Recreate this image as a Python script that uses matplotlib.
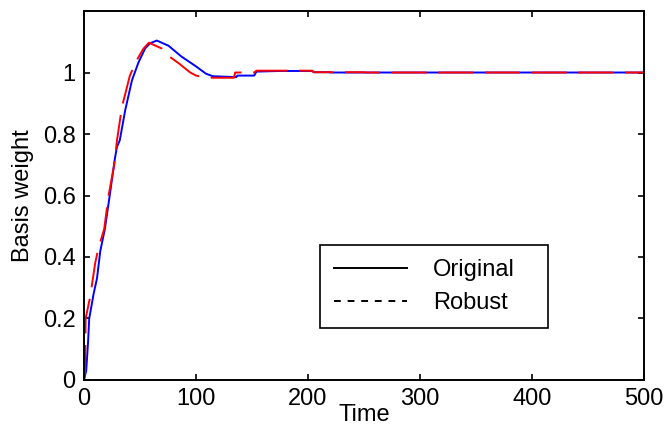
import matplotlib
matplotlib.use("Agg")
import matplotlib.pyplot as plt
from matplotlib.lines import Line2D

plt.rcParams['font.family'] = ['Liberation Sans', 'DejaVu Sans']

t_orig = [0, 2, 3.6, 4.7, 8.6, 11.6, 14.6, 18.6, 23, 27.6, 29.4, 32, 36.8, 42.8, 48.7,
          54.6, 59, 65, 75.5, 87, 100, 109, 115, 136, 137, 152, 154, 175, 204, 205, 219, 220, 500]
y_orig = [0, 0.03, 0.12, 0.2, 0.28, 0.33, 0.42, 0.49, 0.6, 0.72, 0.757, 0.78, 0.877, 0.974, 1.033,
          1.078, 1.095, 1.104, 1.087, 1.052, 1.02, 0.996, 0.988, 0.985, 0.99, 0.99, 1.003, 1.005, 1.005,
          1.001, 1.001, 1.0, 1.0]

t_rob = [0, 1, 1.5, 5.5, 10, 13, 18, 22, 27, 29.5, 33.9, 41, 47, 53, 58, 69.5, 77, 85, 94.5,
         100, 110, 134, 135, 152, 154, 204, 205, 250, 251, 500]
y_rob = [0, 0.03, 0.2, 0.27, 0.38, 0.43, 0.49, 0.6, 0.7, 0.78, 0.888, 0.99, 1.039, 1.077, 1.097,
         1.078, 1.05, 1.029, 1.001, 0.99, 0.983, 0.983, 1.0, 1.0, 1.006, 1.006, 1.001, 1.001, 1.0, 1.0]

xticks = [0, 100, 200, 300, 400, 500]
yticks = [0, 0.2, 0.4, 0.6, 0.8, 1]
ytick_labels = ['0', '0.2', '0.4', '0.6', '0.8', '1']

fs = 17

fig = plt.figure(figsize=(6.68, 4.32), dpi=100)
ax = fig.add_axes([0.1257, 0.1204, 0.8383, 0.8541])

ax.plot(t_orig, y_orig, color='#0000ff', lw=1.4)
ax.plot(t_rob, y_rob, color='#ff0000', lw=1.4, dashes=(18, 6))

ax.set_xlim(0, 500)
ax.set_ylim(0, 1.2)
ax.set_xticks(xticks)
ax.set_yticks(yticks)
ax.set_yticklabels(ytick_labels)
ax.tick_params(direction='in', length=4, width=1.2, labelsize=fs, top=True, right=True,
               labeltop=False, labelright=False, pad=6)
for s in ax.spines.values():
    s.set_linewidth(1.4)

ax.set_ylabel('Basis weight', fontsize=fs)
ax.yaxis.set_label_coords(-0.089, 0.5)
ax.set_xlabel('Time', fontsize=fs)
ax.xaxis.set_label_coords(0.5, -0.065)

handles = [Line2D([], [], color='black', lw=1.4),
           Line2D([], [], color='black', lw=1.4, dashes=(3.5, 3.5))]
leg = ax.legend(handles, ['Original', 'Robust'], loc='lower left',
                bbox_to_anchor=(0.421, 0.141, 0.407, 0.22), mode='expand',
                fontsize=fs, handlelength=3.1, handletextpad=1.1, labelspacing=0.45,
                fancybox=False, edgecolor='black', framealpha=1, borderpad=0.6,
                borderaxespad=0)
leg.get_frame().set_linewidth(1.2)

fig.savefig('out.png', dpi=100)
